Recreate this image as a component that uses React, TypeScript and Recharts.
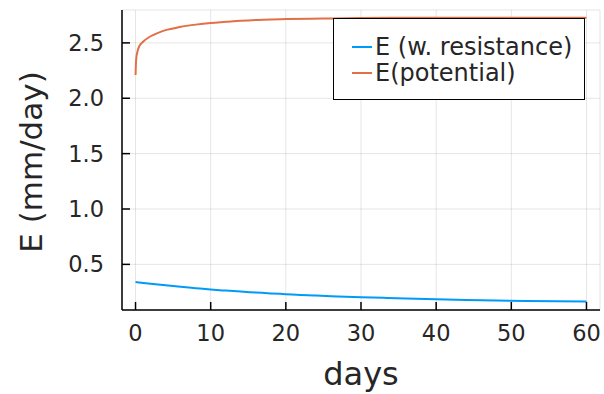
import React from "react";
import { CartesianGrid, Line, LineChart, XAxis, YAxis } from "recharts";

// Evaporation curves (days vs mm/day).
const resistDays = [0, 2, 4, 6, 8, 10, 12, 14, 16, 18, 20, 22, 24, 26, 28, 30, 33, 36, 40, 44, 48, 52, 56, 60];
const resistE = [
  0.34, 0.326, 0.311, 0.297, 0.285, 0.273, 0.263, 0.254, 0.246, 0.238, 0.231, 0.224, 0.218, 0.213, 0.208, 0.204,
  0.198, 0.192, 0.185, 0.178, 0.173, 0.169, 0.166, 0.164,
];

const potentialDays = [0, 0.05, 0.1, 0.25, 0.5, 1, 2, 3, 4, 5, 6, 8, 10, 12, 14, 17, 20, 25, 30, 40, 50, 60];
const potentialE = [
  2.21, 2.31, 2.36, 2.42, 2.47, 2.51, 2.56, 2.59, 2.615, 2.63, 2.645, 2.665, 2.68, 2.69, 2.7, 2.71, 2.715, 2.72,
  2.725, 2.727, 2.728, 2.728,
];

const xTicks = [0, 10, 20, 30, 40, 50, 60];
const yTicks = [0.5, 1.0, 1.5, 2.0, 2.5];

const SERIES = [
  { key: "resist", name: "E (w. resistance)", color: "#009af9" },
  { key: "potential", name: "E(potential)", color: "#e26f46" },
];

const FONT = "'DejaVu Sans', sans-serif";
const INK = "#262626";

const resistPoints = resistDays.map((d, i) => ({ day: d, e: resistE[i] }));
const potentialPoints = potentialDays.map((d, i) => ({ day: d, e: potentialE[i] }));

// drawn as a plain overlay so it doesn't eat into the plot area
function LegendBox() {
  return (
    <div
      style={{
        position: "absolute",
        left: 333,
        top: 18,
        width: 252,
        height: 82,
        border: "1px solid #000",
        background: "#fff",
        boxSizing: "border-box",
        paddingTop: 15,
        fontFamily: FONT,
        fontSize: 24,
        color: INK,
      }}
    >
      {SERIES.map((s) => (
        <div key={s.key} style={{ display: "flex", alignItems: "center", height: 26, whiteSpace: "nowrap" }}>
          <span style={{ display: "inline-block", width: 20, height: 2, marginLeft: 18, marginRight: 3, background: s.color }} />
          <span>{s.name}</span>
        </div>
      ))}
    </div>
  );
}

export default function App() {
  return (
    <div style={{ position: "absolute", left: 0, top: 0, width: 604, height: 394, background: "#fff" }}>
      <LineChart width={604} height={394} margin={{ top: 10, right: 4, bottom: 0, left: 0 }}>
        <CartesianGrid stroke="#000" strokeOpacity={0.1} strokeWidth={1} />
        <XAxis
          type="number"
          dataKey="day"
          domain={[-1.8, 61.8]}
          ticks={xTicks}
          allowDataOverflow
          height={84}
          tickSize={-8}
          tickMargin={23}
          stroke="#000"
          strokeWidth={1.5}
          tick={{ fill: INK, fontSize: 22.5, fontFamily: FONT }}
          label={({ viewBox }: any) => (
            <text
              x={viewBox.x + viewBox.width / 2}
              y={viewBox.y + 64}
              textAnchor="middle"
              dominantBaseline="central"
              fontSize={32}
              fontFamily={FONT}
              fill={INK}
            >
              days
            </text>
          )}
        />
        <YAxis
          type="number"
          domain={[0.088, 2.797]}
          ticks={yTicks}
          allowDataOverflow
          width={122}
          tickSize={-8}
          tickMargin={26}
          stroke="#000"
          strokeWidth={1.5}
          tickFormatter={(v: number) => v.toFixed(1)}
          tick={{ fill: INK, fontSize: 22.5, fontFamily: FONT }}
          label={({ viewBox }: any) => {
            const cx = viewBox.x + 31;
            const cy = viewBox.y + viewBox.height / 2 + 2;
            return (
              <text
                x={cx}
                y={cy}
                transform={`rotate(-90 ${cx} ${cy})`}
                textAnchor="middle"
                dominantBaseline="central"
                fontSize={31}
                fontFamily={FONT}
                fill={INK}
              >
                E (mm/day)
              </text>
            );
          }}
        />
        <Line
          data={resistPoints}
          dataKey="e"
          name={SERIES[0].name}
          stroke={SERIES[0].color}
          strokeWidth={2}
          dot={false}
          type="monotone"
          isAnimationActive={false}
        />
        <Line
          data={potentialPoints}
          dataKey="e"
          name={SERIES[1].name}
          stroke={SERIES[1].color}
          strokeWidth={2}
          dot={false}
          type="monotone"
          isAnimationActive={false}
        />
      </LineChart>
      <LegendBox />
    </div>
  );
}
